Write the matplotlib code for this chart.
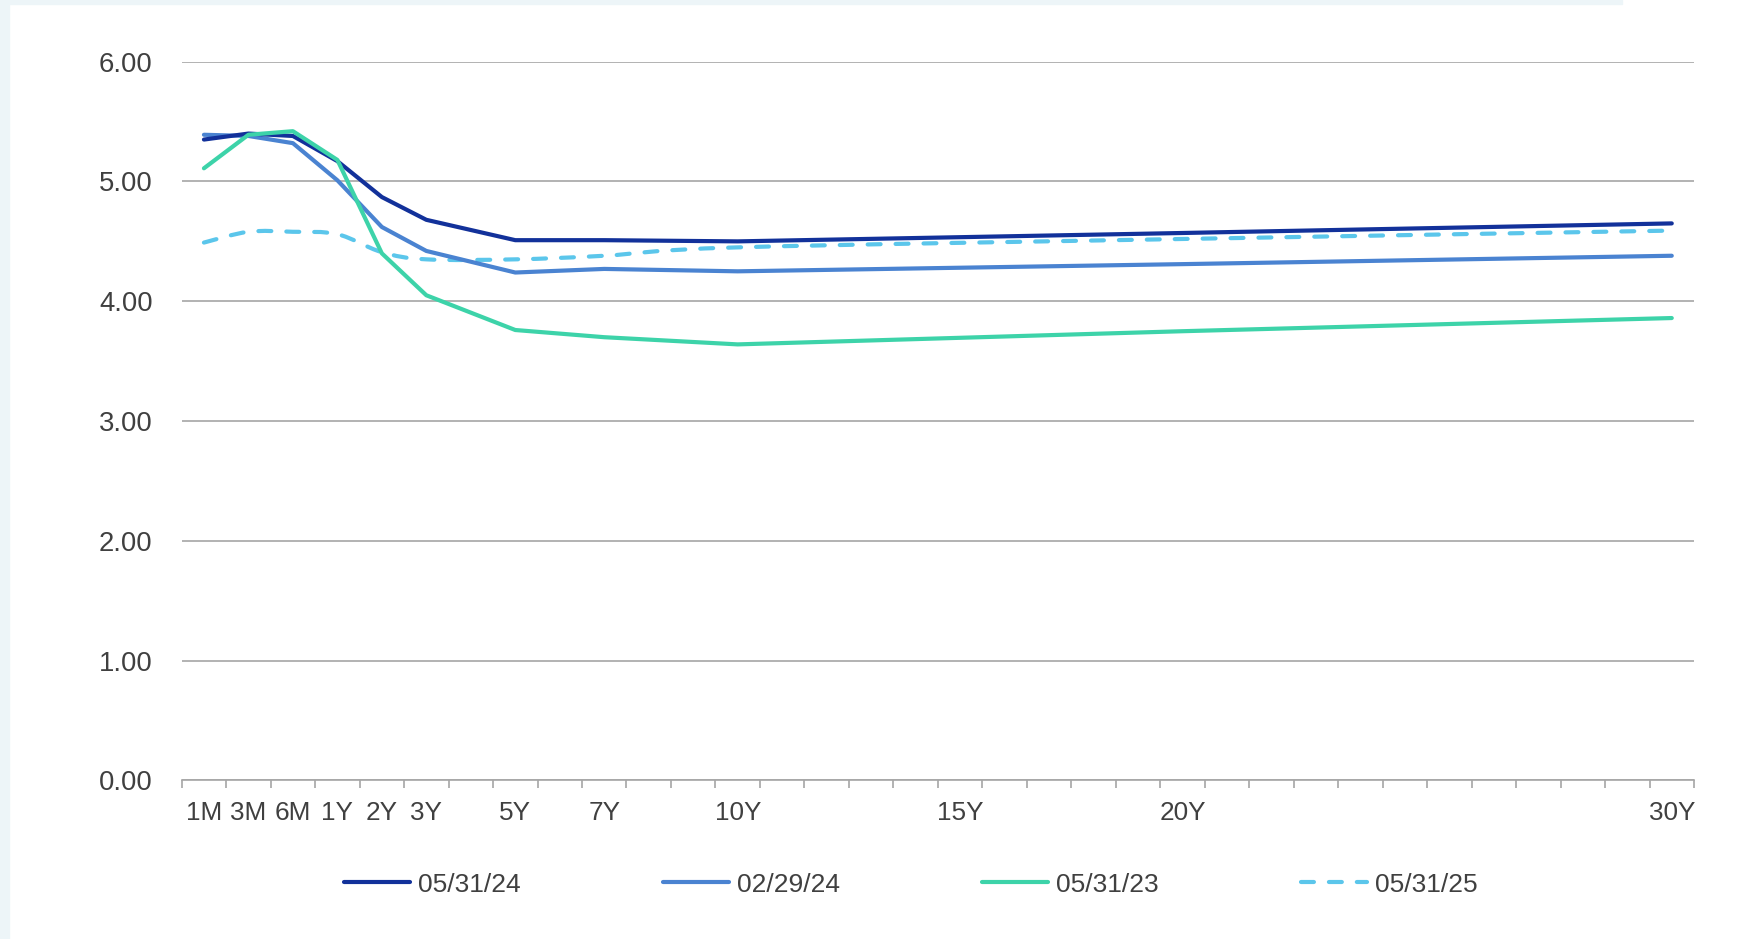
import matplotlib
matplotlib.use("Agg")
import matplotlib.pyplot as plt
from matplotlib.path import Path
from matplotlib.patches import PathPatch, Rectangle
from matplotlib.lines import Line2D

plt.rcParams["font.family"] = ["Liberation Sans", "DejaVu Sans"]

# x axis is split into 34 equal slots; only some slots carry a tenor label
n_slots = 34
tick_labels = ["1M", "3M", "6M", "1Y", "2Y", "3Y", "5Y", "7Y", "10Y", "15Y", "20Y", "30Y"]
tick_slots = [0, 1, 2, 3, 4, 5, 7, 9, 12, 17, 22, 33]

# tenors that have a yield on each curve
tenors = ["1M", "3M", "6M", "1Y", "2Y", "3Y", "5Y", "7Y", "10Y", "20Y", "30Y"]
yield_053124 = [5.35, 5.40, 5.38, 5.17, 4.87, 4.68, 4.51, 4.51, 4.50, 4.57, 4.65]
yield_022924 = [5.39, 5.38, 5.32, 5.01, 4.62, 4.42, 4.24, 4.27, 4.25, 4.31, 4.38]
yield_053123 = [5.11, 5.39, 5.42, 5.18, 4.40, 4.05, 3.76, 3.70, 3.64, 3.75, 3.86]
yield_053125 = [4.49, 4.58, 4.58, 4.56, 4.41, 4.35, 4.35, 4.38, 4.45, 4.52, 4.59]

NAVY = "#12319A"
MID_BLUE = "#4A83D1"
GREEN = "#3DD3A9"
SKY = "#5BC6EB"
GRID = "#A6A6A6"
TEXT = "#404040"


def smooth_path(xs, ys):
    """Bezier path through the points (Catmull-Rom style tangents)."""
    verts = [(xs[0], ys[0])]
    codes = [Path.MOVETO]
    n = len(xs)
    for i in range(n - 1):
        xp, yp = (xs[i - 1], ys[i - 1]) if i > 0 else (xs[i], ys[i])
        xn, yn = (xs[i + 2], ys[i + 2]) if i + 2 < n else (xs[i + 1], ys[i + 1])
        c1 = (xs[i] + (xs[i + 1] - xp) / 6, ys[i] + (ys[i + 1] - yp) / 6)
        c2 = (xs[i + 1] - (xn - xs[i]) / 6, ys[i + 1] - (yn - ys[i]) / 6)
        verts += [c1, c2, (xs[i + 1], ys[i + 1])]
        codes += [Path.CURVE4] * 3
    return Path(verts, codes)


slot_of = dict(zip(tick_labels, tick_slots))
x = [slot_of[t] + 0.5 for t in tenors]

fig = plt.figure(figsize=(17.58, 9.39), dpi=100)

# pale frame strips along the left and top edges
fig.patches.append(Rectangle((0, 0), 9 / 1758, 1, transform=fig.transFigure,
                             color="#EDF5F8", zorder=-1))
fig.patches.append(Rectangle((0, 1 - 4 / 939), 1622 / 1758, 4 / 939,
                             transform=fig.transFigure, color="#EDF5F8", zorder=-1))

ax = fig.add_axes([181.7 / 1758, 1 - 780.4 / 939, (1694 - 181.7) / 1758, (780.4 - 61.7) / 939])

lw = 3.0
ax.plot(x, yield_053124, color=NAVY, lw=lw, solid_capstyle="round", solid_joinstyle="round", zorder=4)
ax.plot(x, yield_022924, color=MID_BLUE, lw=lw, solid_capstyle="round", solid_joinstyle="round", zorder=3)
ax.plot(x, yield_053123, color=GREEN, lw=lw, solid_capstyle="round", solid_joinstyle="round", zorder=5)

dash = (0, (3.1, 3.6))
ax.add_patch(PathPatch(smooth_path(x, yield_053125), fill=False, edgecolor=SKY, lw=lw,
                       linestyle=dash, capstyle="round", zorder=2))

ax.set_xlim(0, n_slots)
ax.set_ylim(0, 6)

ax.set_yticks([0, 1, 2, 3, 4, 5, 6])
ax.set_yticklabels([f"{v:.2f}" for v in range(7)])
ax.yaxis.grid(True, color=GRID, lw=1.2)
ax.set_axisbelow(True)
ax.tick_params(axis="y", length=0, pad=21, labelsize=19.8, labelcolor=TEXT)

ax.set_xticks([s + 0.5 for s in tick_slots])
ax.set_xticklabels(tick_labels)
ax.set_xticks(range(n_slots + 1), minor=True)
ax.tick_params(axis="x", which="major", length=0, pad=15, labelsize=18.8, labelcolor=TEXT)
ax.tick_params(axis="x", which="minor", length=5.5, width=1.2, color=GRID)

for side in ["left", "right", "top"]:
    ax.spines[side].set_visible(False)
ax.spines["bottom"].set_color(GRID)
ax.spines["bottom"].set_linewidth(1.2)

handles = [
    Line2D([], [], color=NAVY, lw=lw, solid_capstyle="round"),
    Line2D([], [], color=MID_BLUE, lw=lw, solid_capstyle="round"),
    Line2D([], [], color=GREEN, lw=lw, solid_capstyle="round"),
    Line2D([], [], color=SKY, lw=lw, linestyle=dash, dash_capstyle="round"),
]
fig.legend(handles, ["05/31/24", "02/29/24", "05/31/23", "05/31/25"],
           loc="center", bbox_to_anchor=(0.518, 1 - 884.6 / 939), ncol=4,
           frameon=False, fontsize=19, labelcolor=TEXT,
           handlelength=2.5, handletextpad=0.3, columnspacing=5.4)

fig.savefig("out.png", dpi=100, facecolor="white")
